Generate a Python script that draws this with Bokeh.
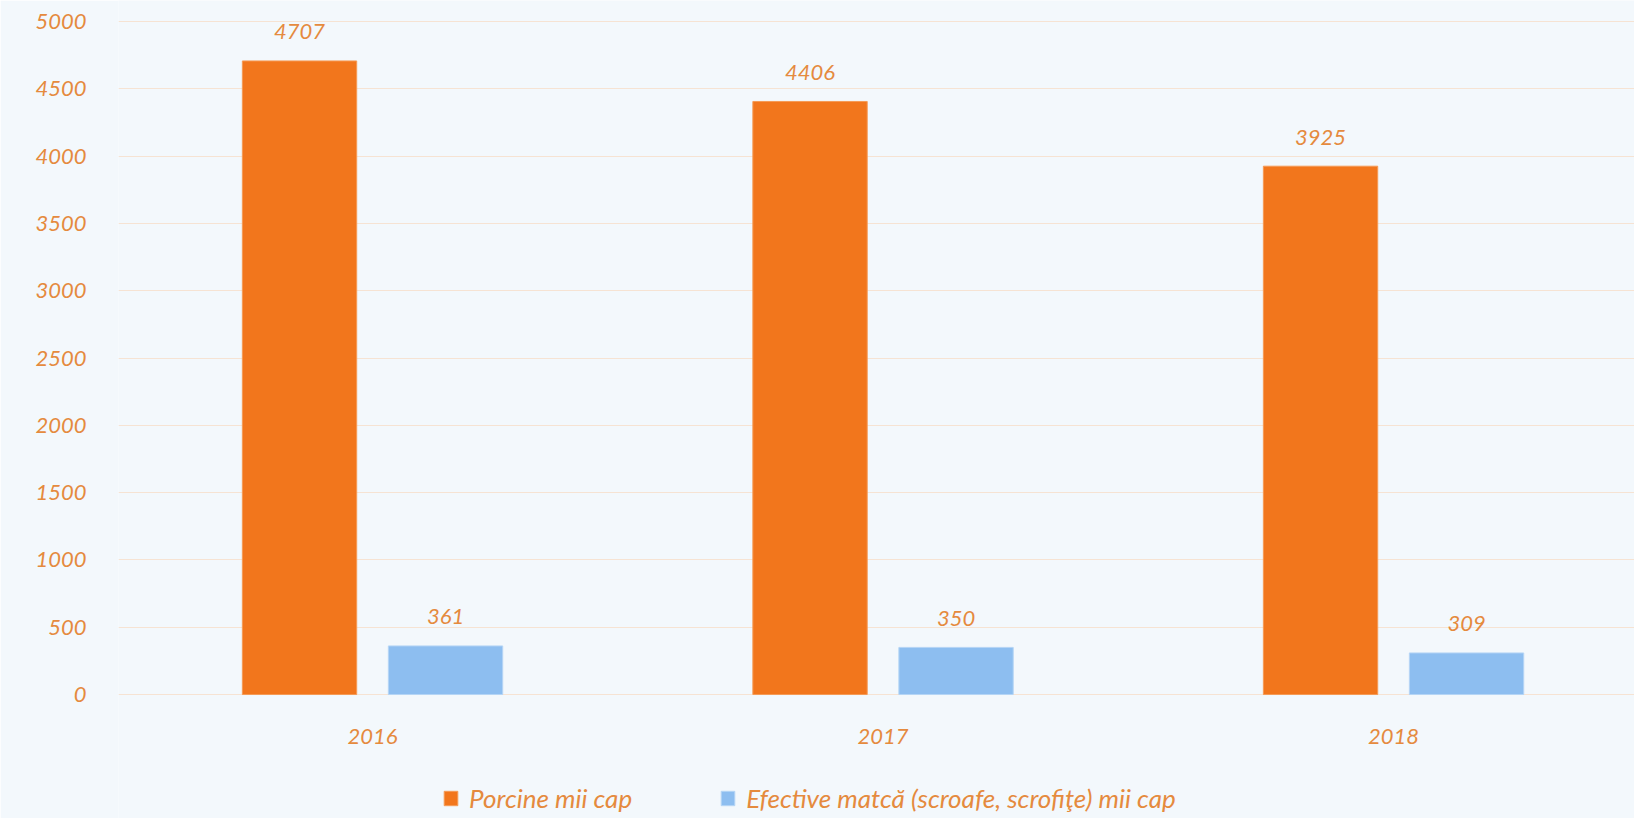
from bokeh.plotting import figure
from bokeh.models import ColumnDataSource, Range1d, FixedTicker, Legend, LegendItem
from bokeh.embed import file_html
from bokeh.resources import INLINE
from bokeh.core.properties import value

years = ["2016", "2017", "2018"]
porcine = [4707, 4406, 3925]
matca = [361, 350, 309]
series_names = ["Porcine mii cap", "Efective matcă (scroafe, scrofiţe) mii cap"]
y_ticks = list(range(0, 5001, 500))

ORANGE = "#F2761C"
BLUE = "#8DBEF0"
TXT = "#E58A3E"
BG = "#F3F8FC"
FONT = value("Lato")

idx = list(range(len(years)))
off, bw = 0.143, 0.224
src = ColumnDataSource(dict(
    x1=[i - off for i in idx],
    x2=[i + off for i in idx],
    porcine=porcine,
    matca=matca,
    pl=[str(v) for v in porcine],
    ml=[str(v) for v in matca],
))

p = figure(width=1634, height=818, output_backend="svg", toolbar_location=None,
           x_range=Range1d(-0.4976, 2.472), y_range=Range1d(-921, 5156),
           min_border_left=118, min_border_right=0, min_border_top=0,
           min_border_bottom=0)
p.background_fill_color = BG
p.border_fill_color = BG
p.outline_line_color = None

p.xgrid.visible = False
p.ygrid.ticker = FixedTicker(ticks=y_ticks)
p.ygrid.grid_line_color = "#F6E3D3"
p.ygrid.grid_line_width = 1.2

r1 = p.vbar(x="x1", top="porcine", width=bw, source=src, fill_color=ORANGE,
            line_color="#F59A55", line_width=1)
r2 = p.vbar(x="x2", top="matca", width=bw, source=src, fill_color=BLUE,
            line_color="#B5D5F5", line_width=1)

for xcol, ycol, tcol in (("x1", "porcine", "pl"), ("x2", "matca", "ml")):
    p.text(x=xcol, y=ycol, text=tcol, source=src, text_align="center",
           text_baseline="middle", y_offset=-29, text_font=FONT,
           text_font_style="italic", text_font_size="22px", text_color=TXT)

p.yaxis.ticker = FixedTicker(ticks=y_ticks)
p.xaxis.ticker = FixedTicker(ticks=idx)
p.xaxis.major_label_overrides = {i: y for i, y in zip(idx, years)}
p.xaxis.fixed_location = 0
for ax in (p.xaxis[0], p.yaxis[0]):
    ax.axis_line_color = None
    ax.major_tick_line_color = None
    ax.minor_tick_line_color = None
    ax.major_label_text_color = TXT
    ax.major_label_text_font = "Lato"
    ax.major_label_text_font_style = "italic"
    ax.major_label_text_font_size = "22px"
p.yaxis.major_label_standoff = 26
p.xaxis.major_label_standoff = 28

legend = Legend(items=[LegendItem(label=series_names[0], renderers=[r1]),
                       LegendItem(label=series_names[1], renderers=[r2])],
                orientation="horizontal", location=(324, 4),
                glyph_width=17, glyph_height=18, label_standoff=10, spacing=87,
                padding=0, margin=0, border_line_color=None,
                background_fill_alpha=0,
                label_text_color=TXT, label_text_font="Lato",
                label_text_font_style="italic", label_text_font_size="26px")
p.add_layout(legend, "center")

open("out.html", "w").write(file_html(p, INLINE))
